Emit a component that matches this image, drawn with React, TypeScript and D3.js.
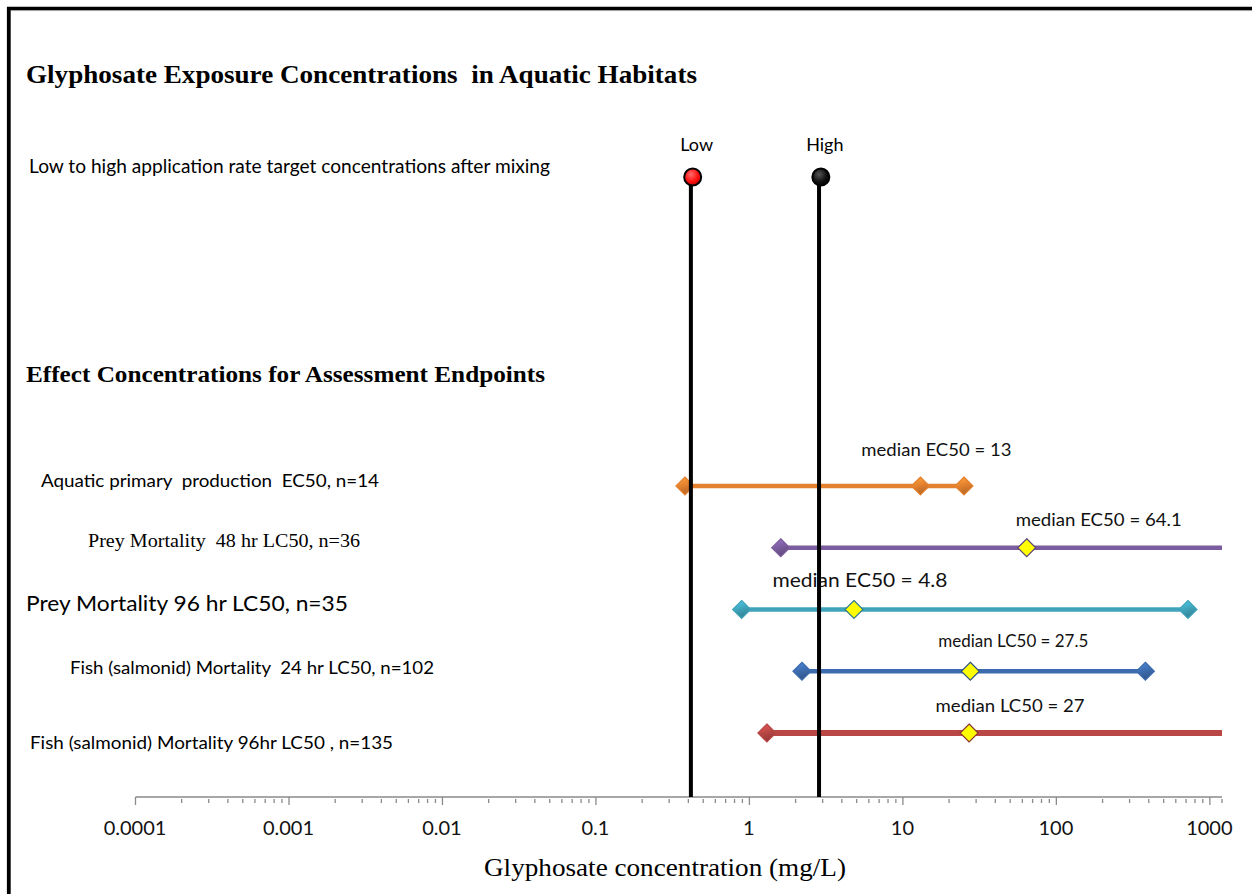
import React from "react";
import * as d3 from "d3";

// endpoint rows, top to bottom
const endpoints = [
  "Aquatic primary  production  EC50, n=14",
  "Prey Mortality  48 hr LC50, n=36",
  "Prey Mortality 96 hr LC50, n=35",
  "Fish (salmonid) Mortality  24 hr LC50, n=102",
  "Fish (salmonid) Mortality 96hr LC50 , n=135",
];
const minValues = [0.38, 1.6, 0.89, 2.2, 1.3];
const medianValues = [13, 64.1, 4.8, 27.5, 27];
const maxValues = [25, 2000, 720, 380, 1500];
const medianLabels = [
  "median EC50 = 13",
  "median EC50 = 64.1",
  "median EC50 = 4.8",
  "median LC50 = 27.5",
  "median LC50 = 27",
];

const applicationLabels = ["Low", "High"];
const applicationValues = [0.427, 2.92];

const tickValues = [0.0001, 0.001, 0.01, 0.1, 1, 10, 100, 1000];
const tickLabels = ["0.0001", "0.001", "0.01", "0.1", "1", "10", "100", "1000"];

// styling per row (kept apart from the values)
const rowColors = ["#E3812F", "#7B5C9E", "#3FA3BA", "#3D6CAE", "#B84745"];
const rowWidths = [4.5, 4.5, 4.5, 4.5, 6];
const medianFills = ["#E3812F", "#FFFF00", "#FFFF00", "#FFFF00", "#FFFF00"];
const rowLabelStyle = [
  { x: 41, dy: -5, font: "Lato, sans-serif", size: 17.5, len: 338 },
  { x: 88, dy: -7, font: "'Liberation Serif', serif", size: 19, len: 272 },
  { x: 26, dy: -6, font: "Lato, sans-serif", size: 20.5, len: 322 },
  { x: 70, dy: -4, font: "Lato, sans-serif", size: 18, len: 364 },
  { x: 30, dy: 10, font: "Lato, sans-serif", size: 18, len: 363 },
];
const medianLabelOffset = [
  { dx: 16, dy: -36, size: 17, len: 150 },
  { dx: 72, dy: -28, size: 17, len: 166 },
  { dx: 6, dy: -30, size: 20, len: 175 },
  { dx: 43, dy: -30, size: 17, len: 150 },
  { dx: 41, dy: -27, size: 17, len: 149 },
];

const W = 1252;
const H = 894;
const sans = "Lato, sans-serif";
const serif = "'Liberation Serif', 'Times New Roman', serif";

function Diamond({ x, y, fill, stroke }: { x: number; y: number; fill: string; stroke: string }) {
  const s = 9;
  return (
    <path
      d={`M${x},${y - s} L${x + s},${y} L${x},${y + s} L${x - s},${y} Z`}
      fill={fill}
      stroke={stroke}
      strokeWidth={1.2}
    />
  );
}

export default function App() {
  const x = d3.scaleLog().domain([0.0001, 1200]).range([135.5, 1222]);
  const y = d3.scalePoint<string>().domain(endpoints).range([486, 733]);
  const axisY = 797;
  const appY = 177;

  const minorTicks: number[] = [];
  for (let e = -4; e < 3; e++) {
    for (let m = 2; m <= 9; m++) minorTicks.push(m * Math.pow(10, e));
  }
  minorTicks.push(1200);

  const clampX = (v: number) => x(Math.min(v, 1200));

  return (
    <svg
      width={W}
      height={H}
      style={{ position: "absolute", left: 0, top: 0, background: "#fff" }}
    >
      <defs>
        {rowColors.map((c, i) => {
          const base = d3.color(c)!;
          return (
            <linearGradient key={i} id={`g${i}`} x1="0" y1="0" x2="0.3" y2="1">
              <stop offset="0%" stopColor={base.brighter(0.7).formatHex()} />
              <stop offset="55%" stopColor={c} />
              <stop offset="100%" stopColor={base.darker(0.6).formatHex()} />
            </linearGradient>
          );
        })}
        <radialGradient id="redBall" cx="0.4" cy="0.35" r="0.7">
          <stop offset="0%" stopColor="#ff6b6b" />
          <stop offset="60%" stopColor="#ff1010" />
          <stop offset="100%" stopColor="#c00000" />
        </radialGradient>
        <radialGradient id="blackBall" cx="0.4" cy="0.35" r="0.7">
          <stop offset="0%" stopColor="#555" />
          <stop offset="60%" stopColor="#111" />
          <stop offset="100%" stopColor="#000" />
        </radialGradient>
      </defs>

      {/* frame */}
      <line x1={7} x2={W} y1={8.5} y2={8.5} stroke="#000" strokeWidth={3.5} />
      <line x1={7} x2={W} y1={10.6} y2={10.6} stroke="#999" strokeWidth={0.8} />
      <line x1={8.8} x2={8.8} y1={7} y2={H} stroke="#000" strokeWidth={3.8} />

      {/* headings */}
      <text x={26} y={83} fontFamily={serif} fontWeight="bold" fontSize={26} textLength={671} lengthAdjust="spacingAndGlyphs" style={{ whiteSpace: "pre" }}>
        Glyphosate Exposure Concentrations  in Aquatic Habitats
      </text>
      <text x={29} y={173} fontFamily={sans} fontSize={18.5} textLength={521} lengthAdjust="spacingAndGlyphs">
        Low to high application rate target concentrations after mixing
      </text>
      <text x={26} y={382} fontFamily={serif} fontWeight="bold" fontSize={24} textLength={519} lengthAdjust="spacingAndGlyphs">
        Effect Concentrations for Assessment Endpoints
      </text>

      {/* axis */}
      <line x1={x(0.0001)} x2={x(1200)} y1={axisY} y2={axisY} stroke="#8a8a8a" strokeWidth={1.6} />
      {minorTicks.map((t, i) => (
        <line key={`m${i}`} x1={x(t)} x2={x(t)} y1={axisY + 2} y2={axisY + 6} stroke="#8a8a8a" strokeWidth={1.3} />
      ))}
      {tickValues.map((t, i) => (
        <g key={`t${i}`}>
          <line x1={x(t)} x2={x(t)} y1={axisY} y2={axisY + 8} stroke="#8a8a8a" strokeWidth={1.3} />
          <text x={x(t) - 0.5} y={axisY + 38} textAnchor="middle" fontFamily={sans} fontSize={20} fill="#111">
            {tickLabels[i]}
          </text>
        </g>
      ))}
      <text x={665} y={876} textAnchor="middle" fontFamily={serif} fontSize={26} textLength={362} lengthAdjust="spacingAndGlyphs">
        Glyphosate concentration (mg/L)
      </text>

      {/* endpoint rows */}
      {endpoints.map((name, i) => {
        const cy = y(name)!;
        const ls = rowLabelStyle[i];
        const mo = medianLabelOffset[i];
        const dark = d3.color(rowColors[i])!.darker(0.8).formatHex();
        return (
          <g key={name}>
            <text
              x={ls.x}
              y={cy + ls.dy + ls.size * 0.35}
              fontFamily={ls.font}
              fontSize={ls.size}
              textLength={ls.len}
              lengthAdjust="spacingAndGlyphs"
              style={{ whiteSpace: "pre" }}
            >
              {name}
            </text>
            <line
              x1={x(minValues[i])}
              x2={clampX(maxValues[i])}
              y1={cy}
              y2={cy}
              stroke={rowColors[i]}
              strokeWidth={rowWidths[i]}
            />
            <Diamond x={x(minValues[i])} y={cy} fill={`url(#g${i})`} stroke={rowColors[i]} />
            {maxValues[i] <= 1200 && (
              <Diamond x={x(maxValues[i])} y={cy} fill={`url(#g${i})`} stroke={rowColors[i]} />
            )}
            <Diamond
              x={x(medianValues[i])}
              y={cy}
              fill={medianFills[i] === "#FFFF00" ? "#FFFF00" : `url(#g${i})`}
              stroke={medianFills[i] === "#FFFF00" ? dark : rowColors[i]}
            />
            <text
              x={x(medianValues[i]) + mo.dx}
              y={cy + mo.dy + mo.size * 0.35}
              textAnchor="middle"
              fontFamily={sans}
              fontSize={mo.size}
              textLength={mo.len}
              lengthAdjust="spacingAndGlyphs"
              fill="#111"
            >
              {medianLabels[i]}
            </text>
          </g>
        );
      })}

      {/* application rate lines */}
      {applicationValues.map((v, i) => (
        <g key={applicationLabels[i]}>
          <line x1={x(v) - 1.8} x2={x(v) - 1.8} y1={appY} y2={axisY} stroke="#000" strokeWidth={4} />
          <circle
            cx={x(v)}
            cy={appY}
            r={8.5}
            fill={i === 0 ? "url(#redBall)" : "url(#blackBall)"}
            stroke="#000"
            strokeWidth={2}
          />
          <text x={x(v) + 4} y={151} textAnchor="middle" fontFamily={sans} fontSize={18}>
            {applicationLabels[i]}
          </text>
        </g>
      ))}
    </svg>
  );
}
